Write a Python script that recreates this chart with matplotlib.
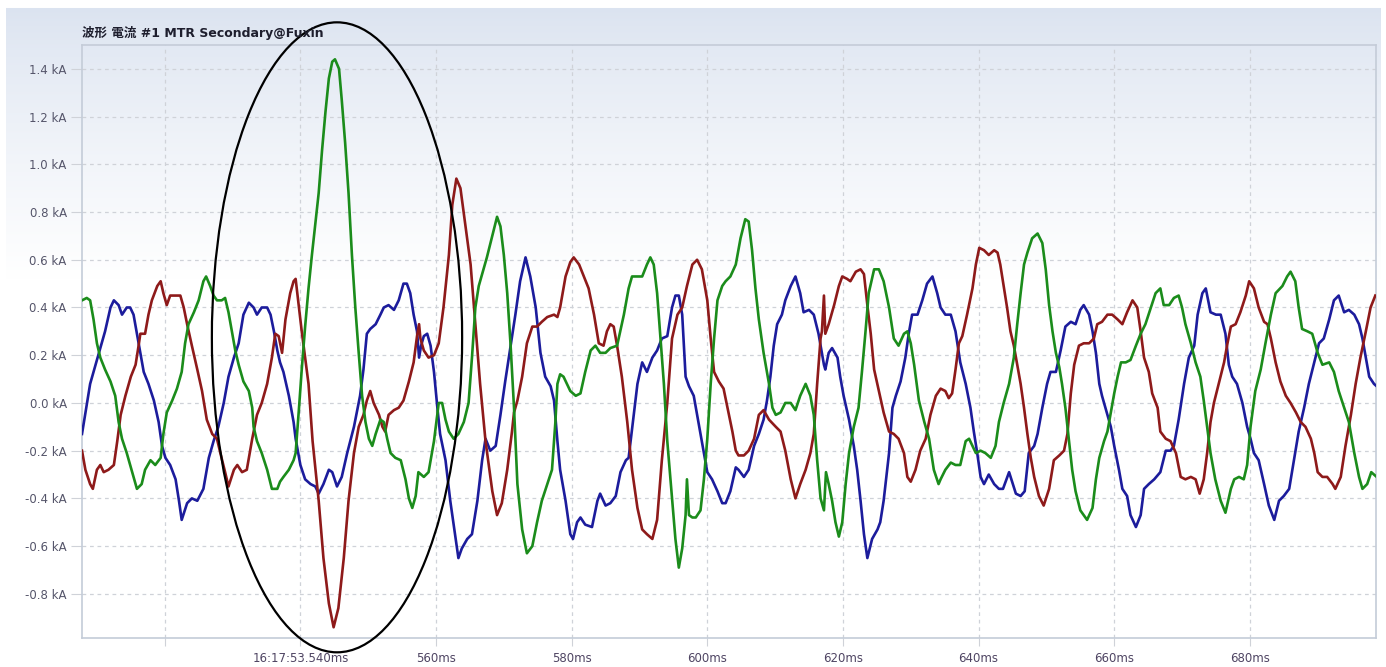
import numpy as np
import matplotlib
matplotlib.use("Agg")
import matplotlib.pyplot as plt
from matplotlib.patches import Ellipse
from matplotlib.colors import LinearSegmentedColormap

# ---- waveform samples: time in ms, current in kA ----
t_blue = [507.8, 509.0, 510.3, 511.2, 512.0, 512.5, 513.2, 513.7, 514.4, 514.9, 515.4, 515.9, 516.4, 516.9,
          517.6, 518.4, 519.1, 519.6, 520.1, 520.8, 521.6, 522.1, 522.5, 523.3, 524.0, 524.8, 525.7, 526.5,
          527.2, 527.9, 528.7, 529.4, 530.2, 530.9, 531.6, 532.4, 533.1, 533.6, 534.3, 535.1, 535.6, 536.1,
          536.6, 537.0, 537.5, 538.3, 539.0, 539.3, 540.0, 540.7, 541.5, 542.2, 542.7, 543.4, 544.2, 544.7,
          545.4, 546.1, 546.9, 547.9, 548.8, 549.3, 549.8, 550.3, 551.1, 551.8, 552.3, 553.0, 553.8, 554.5,
          555.2, 555.7, 556.2, 556.7, 557.2, 557.5, 557.8, 558.2, 558.7, 559.2, 559.7, 560.2, 560.6, 561.4,
          562.1, 562.9, 563.3, 563.8, 564.6, 565.3, 566.1, 566.8, 567.3, 568.0, 568.8, 569.5, 570.2, 571.0,
          571.7, 572.4, 573.2, 573.9, 574.7, 575.4, 576.1, 576.9, 577.4, 577.9, 578.3, 579.1, 579.8, 580.2,
          580.8, 581.3, 582.0, 583.0, 583.8, 584.2, 585.0, 585.7, 586.5, 587.2, 588.0, 588.4, 589.2, 589.7,
          590.4, 591.1, 591.9, 592.6, 593.3, 594.1, 594.8, 595.3, 595.8, 596.3, 596.8, 597.3, 598.0, 598.5,
          599.2, 600.0, 600.7, 601.5, 602.2, 602.7, 603.4, 604.2, 604.6, 605.4, 606.1, 606.9, 607.6, 608.3,
          608.8, 609.3, 609.8, 610.3, 611.0, 611.5, 612.3, 613.0, 613.7, 614.2, 615.0, 615.7, 616.4, 617.2,
          617.4, 617.9, 618.4, 619.2, 619.6, 620.1, 620.9, 621.6, 622.1, 622.6, 623.1, 623.6, 624.3, 625.1,
          625.5, 626.0, 626.8, 627.3, 627.8, 628.5, 629.2, 629.7, 630.2, 631.0, 631.7, 632.4, 633.2, 633.9,
          634.4, 635.1, 635.9, 636.6, 637.3, 638.1, 638.8, 639.3, 639.8, 640.3, 640.8, 641.5, 642.3, 643.0,
          643.6, 644.5, 645.5, 646.2, 646.8, 647.4, 648.2, 648.7, 649.4, 650.1, 650.6, 651.4, 652.1, 652.8,
          653.6, 654.3, 655.0, 655.5, 656.3, 656.8, 657.3, 657.8, 658.2, 658.7, 659.5, 660.0, 660.7, 661.2,
          661.9, 662.4, 663.2, 663.9, 664.4, 665.1, 665.9, 666.8, 667.6, 668.3, 668.8, 669.5, 670.3, 671.0,
          671.8, 672.3, 673.0, 673.5, 674.2, 675.0, 675.7, 676.4, 676.9, 677.4, 678.1, 678.9, 679.6, 680.1,
          680.6, 681.3, 682.1, 682.8, 683.6, 684.3, 685.0, 685.8, 686.5, 687.2, 688.0, 688.7, 689.5, 690.2,
          690.9, 691.7, 692.4, 693.1, 693.9, 694.6, 695.4, 696.1, 696.6, 697.1, 697.6, 698.3, 698.7]
i_blue = [-0.13, 0.08, 0.21, 0.30, 0.40, 0.43, 0.41, 0.37, 0.40, 0.40, 0.37, 0.29, 0.21, 0.13,
          0.08, 0.01, -0.08, -0.18, -0.23, -0.26, -0.32, -0.41, -0.49, -0.42, -0.40, -0.41, -0.36, -0.23,
          -0.16, -0.10, 0.00, 0.11, 0.19, 0.25, 0.37, 0.42, 0.40, 0.37, 0.40, 0.40, 0.37, 0.30,
          0.22, 0.17, 0.13, 0.03, -0.08, -0.15, -0.26, -0.32, -0.34, -0.35, -0.38, -0.34, -0.28, -0.29,
          -0.35, -0.31, -0.21, -0.10, 0.03, 0.14, 0.29, 0.31, 0.33, 0.37, 0.40, 0.41, 0.39, 0.43,
          0.50, 0.50, 0.46, 0.37, 0.30, 0.19, 0.24, 0.28, 0.29, 0.24, 0.13, -0.02, -0.13, -0.24,
          -0.41, -0.57, -0.65, -0.61, -0.57, -0.55, -0.41, -0.24, -0.15, -0.20, -0.18, -0.05, 0.09, 0.24,
          0.37, 0.51, 0.61, 0.53, 0.40, 0.21, 0.11, 0.07, 0.01, -0.16, -0.28, -0.41, -0.55, -0.57,
          -0.50, -0.48, -0.51, -0.52, -0.41, -0.38, -0.43, -0.42, -0.39, -0.29, -0.24, -0.23, -0.04, 0.08,
          0.17, 0.13, 0.19, 0.22, 0.27, 0.28, 0.40, 0.45, 0.45, 0.37, 0.11, 0.07, 0.03, -0.05,
          -0.16, -0.29, -0.32, -0.37, -0.42, -0.42, -0.37, -0.27, -0.28, -0.31, -0.28, -0.18, -0.13, -0.07,
          0.01, 0.11, 0.24, 0.33, 0.37, 0.43, 0.49, 0.53, 0.46, 0.38, 0.39, 0.37, 0.29, 0.16,
          0.14, 0.21, 0.23, 0.19, 0.11, 0.03, -0.07, -0.18, -0.28, -0.41, -0.55, -0.65, -0.57, -0.53,
          -0.50, -0.41, -0.21, -0.02, 0.03, 0.09, 0.19, 0.29, 0.37, 0.37, 0.43, 0.50, 0.53, 0.46,
          0.40, 0.37, 0.37, 0.30, 0.17, 0.08, -0.02, -0.12, -0.21, -0.31, -0.34, -0.30, -0.34, -0.36,
          -0.36, -0.29, -0.38, -0.39, -0.37, -0.21, -0.18, -0.13, -0.02, 0.08, 0.13, 0.13, 0.22, 0.32,
          0.34, 0.33, 0.39, 0.41, 0.37, 0.30, 0.21, 0.08, 0.03, -0.02, -0.10, -0.18, -0.28, -0.36,
          -0.39, -0.47, -0.52, -0.47, -0.36, -0.34, -0.32, -0.29, -0.20, -0.20, -0.18, -0.07, 0.08, 0.19,
          0.24, 0.37, 0.46, 0.48, 0.38, 0.37, 0.37, 0.29, 0.16, 0.11, 0.08, 0.00, -0.10, -0.15,
          -0.21, -0.24, -0.34, -0.43, -0.49, -0.41, -0.39, -0.36, -0.24, -0.12, -0.02, 0.08, 0.17, 0.25,
          0.27, 0.35, 0.43, 0.45, 0.38, 0.39, 0.37, 0.33, 0.27, 0.19, 0.11, 0.08, 0.07]

t_red = [507.8, 508.3, 509.0, 509.4, 510.0, 510.5, 511.0, 511.7, 512.5, 513.0, 513.5, 514.2, 515.0, 515.7,
         516.2, 516.4, 517.1, 517.6, 518.1, 518.9, 519.4, 519.8, 520.3, 520.8, 521.6, 522.3, 522.8, 523.3,
         524.0, 524.8, 525.5, 526.2, 527.0, 527.7, 528.2, 528.9, 529.4, 530.2, 530.7, 531.4, 532.1, 532.9,
         533.6, 534.3, 535.1, 535.8, 536.3, 536.8, 537.3, 537.8, 538.5, 539.0, 539.3, 540.2, 541.2, 541.8,
         542.7, 543.4, 544.2, 544.9, 545.6, 546.4, 547.1, 547.9, 548.6, 549.3, 549.8, 550.3, 550.8, 551.6,
         552.1, 552.5, 553.0, 553.8, 554.5, 555.2, 556.0, 556.7, 557.2, 557.5, 557.7, 558.2, 558.9, 559.7,
         560.4, 561.1, 561.9, 562.4, 563.0, 563.6, 564.3, 565.1, 565.8, 566.5, 567.3, 568.3, 569.0, 569.7,
         570.5, 571.2, 571.5, 572.0, 572.7, 573.4, 574.2, 574.9, 575.6, 576.4, 577.4, 577.9, 578.3, 579.1,
         579.8, 580.3, 581.1, 581.8, 582.5, 583.3, 584.0, 584.7, 585.2, 585.7, 586.2, 586.7, 587.4, 588.2,
         588.9, 589.7, 590.4, 591.1, 591.9, 592.6, 593.3, 594.1, 594.8, 595.6, 596.3, 597.0, 597.8, 598.5,
         599.2, 600.0, 600.5, 601.0, 601.7, 602.4, 603.2, 603.7, 604.2, 604.6, 605.4, 606.1, 606.9, 607.6,
         608.3, 609.1, 610.1, 610.8, 611.5, 612.3, 613.0, 613.7, 614.5, 615.2, 615.7, 616.2, 616.7, 616.9,
         617.2, 617.4, 617.9, 618.7, 619.4, 619.9, 620.6, 621.1, 621.9, 622.6, 623.1, 623.6, 624.1, 624.6,
         625.3, 626.0, 626.8, 627.5, 628.2, 629.0, 629.5, 630.0, 630.7, 631.4, 632.2, 632.9, 633.7, 634.4,
         635.1, 635.6, 636.1, 636.6, 637.1, 637.6, 638.3, 639.1, 639.6, 640.1, 640.8, 641.5, 642.3, 642.8,
         643.2, 643.7, 644.2, 644.7, 645.2, 645.7, 646.2, 646.7, 647.2, 647.7, 648.2, 648.9, 649.6, 650.4,
         651.1, 651.9, 652.6, 653.1, 653.6, 654.1, 654.8, 655.5, 656.3, 657.0, 657.5, 658.2, 659.0, 659.7,
         660.5, 661.2, 661.9, 662.7, 663.4, 663.9, 664.4, 665.1, 665.6, 666.4, 666.8, 667.6, 668.3, 669.1,
         669.8, 670.5, 671.3, 672.0, 672.6, 673.2, 673.7, 674.2, 674.7, 675.4, 676.2, 676.7, 677.2, 677.9,
         678.6, 679.4, 679.9, 680.6, 681.3, 682.1, 682.6, 683.1, 683.8, 684.5, 685.3, 686.0, 686.8, 687.5,
         688.2, 689.0, 689.5, 690.0, 690.7, 691.4, 692.2, 692.6, 693.4, 694.1, 694.9, 695.6, 696.3, 697.1,
         697.8, 698.5]
i_red = [-0.20, -0.28, -0.34, -0.36, -0.28, -0.26, -0.29, -0.28, -0.26, -0.16, -0.05, 0.03, 0.11, 0.16,
         0.25, 0.29, 0.29, 0.37, 0.43, 0.49, 0.51, 0.46, 0.41, 0.45, 0.45, 0.45, 0.40, 0.33,
         0.24, 0.14, 0.05, -0.07, -0.13, -0.15, -0.21, -0.29, -0.35, -0.28, -0.26, -0.29, -0.28, -0.15,
         -0.05, 0.00, 0.08, 0.19, 0.29, 0.28, 0.21, 0.35, 0.46, 0.51, 0.52, 0.30, 0.08, -0.16,
         -0.41, -0.65, -0.84, -0.94, -0.86, -0.65, -0.41, -0.21, -0.10, -0.05, 0.01, 0.05, 0.00, -0.05,
         -0.10, -0.12, -0.05, -0.03, -0.02, 0.01, 0.09, 0.17, 0.28, 0.33, 0.27, 0.22, 0.19, 0.20,
         0.25, 0.40, 0.62, 0.83, 0.94, 0.90, 0.75, 0.58, 0.33, 0.08, -0.16, -0.37, -0.47, -0.42,
         -0.28, -0.12, -0.04, 0.01, 0.11, 0.25, 0.32, 0.32, 0.34, 0.36, 0.37, 0.36, 0.40, 0.53,
         0.59, 0.61, 0.58, 0.53, 0.48, 0.37, 0.25, 0.24, 0.30, 0.33, 0.32, 0.24, 0.11, -0.08,
         -0.28, -0.44, -0.53, -0.55, -0.57, -0.49, -0.24, 0.00, 0.27, 0.37, 0.40, 0.49, 0.58, 0.60,
         0.56, 0.43, 0.27, 0.13, 0.09, 0.06, -0.05, -0.12, -0.20, -0.22, -0.22, -0.20, -0.15, -0.05,
         -0.03, -0.07, -0.10, -0.12, -0.20, -0.32, -0.40, -0.34, -0.28, -0.21, -0.13, 0.08, 0.27, 0.30,
         0.45, 0.29, 0.33, 0.41, 0.49, 0.53, 0.52, 0.51, 0.55, 0.56, 0.54, 0.41, 0.29, 0.14,
         0.05, -0.04, -0.12, -0.13, -0.15, -0.21, -0.31, -0.33, -0.28, -0.20, -0.15, -0.05, 0.03, 0.06,
         0.05, 0.02, 0.04, 0.14, 0.25, 0.28, 0.37, 0.48, 0.58, 0.65, 0.64, 0.62, 0.64, 0.63,
         0.58, 0.49, 0.40, 0.30, 0.24, 0.16, 0.08, -0.02, -0.13, -0.23, -0.31, -0.39, -0.43, -0.36,
         -0.24, -0.22, -0.20, -0.13, 0.04, 0.16, 0.24, 0.25, 0.25, 0.27, 0.33, 0.34, 0.37, 0.37,
         0.35, 0.33, 0.38, 0.43, 0.40, 0.30, 0.19, 0.13, 0.04, -0.02, -0.12, -0.15, -0.16, -0.21,
         -0.31, -0.32, -0.31, -0.32, -0.38, -0.32, -0.21, -0.08, 0.00, 0.08, 0.17, 0.25, 0.32, 0.33,
         0.38, 0.45, 0.51, 0.48, 0.40, 0.34, 0.33, 0.27, 0.17, 0.09, 0.03, 0.00, -0.04, -0.08,
         -0.10, -0.15, -0.21, -0.29, -0.31, -0.31, -0.34, -0.36, -0.31, -0.18, -0.05, 0.08, 0.19, 0.30,
         0.40, 0.45]

t_green = [507.8, 508.5, 509.0, 509.5, 510.0, 510.5, 511.2, 512.0, 512.7, 513.2, 513.7, 514.4, 515.2, 515.9,
           516.6, 517.1, 517.9, 518.6, 519.4, 519.8, 520.3, 521.1, 521.8, 522.5, 523.0, 523.5, 524.3, 525.0,
           525.7, 526.1, 526.7, 527.2, 527.7, 528.4, 528.9, 529.4, 529.9, 530.4, 530.9, 531.6, 532.4, 532.9,
           533.1, 533.6, 534.3, 535.1, 535.8, 536.6, 537.0, 537.5, 538.3, 539.0, 539.3, 539.8, 540.2, 540.7,
           541.2, 541.7, 542.2, 542.7, 543.2, 543.7, 544.2, 544.7, 545.1, 545.7, 546.1, 546.6, 547.1, 547.6,
           548.1, 548.6, 549.1, 549.6, 550.1, 550.6, 551.1, 551.8, 552.3, 552.8, 553.3, 554.0, 554.8, 555.5,
           556.0, 556.5, 557.0, 557.4, 558.2, 558.9, 559.7, 560.4, 560.9, 561.4, 561.9, 562.6, 563.3, 564.1,
           564.8, 565.3, 565.8, 566.3, 567.0, 567.5, 568.3, 569.0, 569.5, 570.0, 570.5, 571.0, 571.5, 572.0,
           572.7, 573.4, 574.2, 574.9, 575.6, 576.4, 577.1, 577.6, 577.9, 578.3, 578.8, 579.3, 579.8, 580.6,
           581.3, 582.0, 582.8, 583.5, 584.2, 585.0, 585.7, 586.7, 587.7, 588.4, 588.9, 589.7, 590.4, 591.1,
           591.6, 592.1, 592.6, 593.1, 593.6, 594.1, 594.8, 595.3, 595.8, 596.3, 596.8, 597.0, 597.3, 597.8,
           598.3, 599.0, 599.5, 600.0, 600.5, 601.0, 601.5, 602.2, 602.7, 603.4, 604.2, 604.9, 605.6, 606.1,
           606.6, 607.1, 607.6, 608.3, 609.1, 609.6, 610.1, 610.8, 611.5, 612.3, 613.0, 613.7, 614.5, 615.2,
           615.7, 616.2, 616.7, 617.2, 617.5, 617.9, 618.4, 618.9, 619.4, 619.9, 620.4, 620.9, 621.6, 622.3,
           622.8, 623.3, 623.8, 624.6, 625.3, 626.0, 626.8, 627.5, 628.2, 629.0, 629.5, 630.0, 630.5, 631.2,
           632.0, 632.7, 633.4, 634.1, 634.4, 635.1, 635.9, 636.6, 637.3, 638.1, 638.6, 639.1, 639.6, 640.3,
           641.0, 641.8, 642.5, 643.0, 643.7, 644.5, 645.2, 645.7, 646.2, 646.7, 647.2, 647.9, 648.7, 649.4,
           649.9, 650.4, 650.9, 651.4, 651.9, 652.3, 652.8, 653.3, 653.8, 654.3, 655.0, 656.0, 656.8, 657.3,
           657.8, 658.5, 659.0, 659.5, 660.0, 660.5, 661.0, 661.7, 662.4, 663.2, 663.9, 664.6, 665.4, 666.1,
           666.8, 667.3, 668.1, 668.8, 669.5, 670.0, 670.5, 671.3, 672.0, 672.7, 673.2, 673.7, 674.2, 674.9,
           675.7, 676.4, 677.2, 677.7, 678.4, 679.1, 679.6, 680.1, 680.8, 681.6, 682.3, 683.1, 683.8, 684.8,
           685.5, 686.0, 686.7, 687.2, 687.7, 688.5, 689.2, 690.0, 690.7, 691.7, 692.4, 693.1, 693.9, 694.6,
           695.4, 696.1, 696.6, 697.3, 697.9, 698.7]
i_green = [0.43, 0.44, 0.43, 0.35, 0.25, 0.19, 0.14, 0.09, 0.03, -0.08, -0.15, -0.21, -0.29, -0.36,
           -0.34, -0.28, -0.24, -0.26, -0.23, -0.13, -0.04, 0.01, 0.06, 0.13, 0.25, 0.33, 0.38, 0.43,
           0.51, 0.53, 0.49, 0.45, 0.43, 0.43, 0.44, 0.38, 0.30, 0.22, 0.16, 0.09, 0.05, -0.02,
           -0.10, -0.16, -0.21, -0.28, -0.36, -0.36, -0.33, -0.31, -0.28, -0.24, -0.21, -0.02, 0.14, 0.32,
           0.48, 0.62, 0.75, 0.88, 1.06, 1.22, 1.36, 1.43, 1.44, 1.40, 1.27, 1.09, 0.88, 0.62,
           0.40, 0.21, 0.03, -0.08, -0.15, -0.18, -0.13, -0.07, -0.08, -0.15, -0.21, -0.23, -0.24, -0.32,
           -0.40, -0.44, -0.39, -0.29, -0.31, -0.29, -0.16, 0.00, 0.00, -0.07, -0.12, -0.15, -0.13, -0.08,
           0.00, 0.19, 0.40, 0.49, 0.56, 0.61, 0.70, 0.78, 0.74, 0.62, 0.46, 0.24, -0.02, -0.34,
           -0.53, -0.63, -0.60, -0.50, -0.41, -0.34, -0.28, -0.08, 0.08, 0.12, 0.11, 0.08, 0.05, 0.03,
           0.04, 0.13, 0.22, 0.24, 0.21, 0.21, 0.23, 0.24, 0.37, 0.48, 0.53, 0.53, 0.53, 0.58,
           0.61, 0.58, 0.46, 0.27, 0.08, -0.16, -0.40, -0.57, -0.69, -0.61, -0.47, -0.32, -0.47, -0.48,
           -0.48, -0.45, -0.32, -0.15, 0.08, 0.27, 0.43, 0.49, 0.51, 0.53, 0.58, 0.69, 0.77, 0.76,
           0.64, 0.48, 0.35, 0.21, 0.08, -0.02, -0.05, -0.04, 0.00, 0.00, -0.03, 0.03, 0.08, 0.03,
           -0.05, -0.24, -0.40, -0.45, -0.29, -0.34, -0.41, -0.50, -0.56, -0.50, -0.34, -0.21, -0.10, -0.02,
           0.13, 0.29, 0.46, 0.56, 0.56, 0.51, 0.40, 0.27, 0.24, 0.29, 0.30, 0.25, 0.16, 0.01,
           -0.08, -0.15, -0.28, -0.34, -0.32, -0.28, -0.25, -0.26, -0.26, -0.16, -0.15, -0.18, -0.21, -0.20,
           -0.21, -0.23, -0.18, -0.08, 0.00, 0.08, 0.19, 0.33, 0.46, 0.58, 0.63, 0.69, 0.71, 0.67,
           0.56, 0.41, 0.30, 0.21, 0.15, 0.08, -0.02, -0.15, -0.28, -0.37, -0.45, -0.49, -0.44, -0.32,
           -0.23, -0.16, -0.12, -0.04, 0.04, 0.11, 0.17, 0.17, 0.18, 0.24, 0.29, 0.33, 0.40, 0.46,
           0.48, 0.41, 0.41, 0.44, 0.45, 0.40, 0.33, 0.25, 0.17, 0.11, 0.01, -0.10, -0.21, -0.32,
           -0.41, -0.46, -0.36, -0.32, -0.31, -0.32, -0.26, -0.10, 0.05, 0.14, 0.25, 0.37, 0.46, 0.49,
           0.53, 0.55, 0.51, 0.40, 0.31, 0.30, 0.29, 0.21, 0.16, 0.17, 0.13, 0.05, -0.02, -0.08,
           -0.21, -0.31, -0.36, -0.34, -0.29, -0.31]

y_ticks = [-0.8, -0.6, -0.4, -0.2, 0.0, 0.2, 0.4, 0.6, 0.8, 1.0, 1.2, 1.4]
x_ticks = [520, 540, 560, 580, 600, 620, 640, 660, 680]
x_labels = ["", "16:17:53.540ms", "560ms", "580ms", "600ms", "620ms", "640ms", "660ms", "680ms"]
title = "波形 電流 #1 MTR Secondary@Fuxin"

W, H = 1386, 667
fig = plt.figure(figsize=(W / 100, H / 100), dpi=100, facecolor="white")

# soft blue-to-white backdrop behind the chart
bg = fig.add_axes([0, 0, 1, 1], zorder=-5)
bg.set_xlim(0, 1)
bg.set_ylim(0, 1)
bg.axis("off")
grad = np.ones((H, 1))
rows = np.arange(H)
top, fade_end = 8, 280
frac = np.clip((rows - top) / (fade_end - top), 0, 1) ** 0.8
grad[:, 0] = frac
grad[:top, 0] = 1.0
cmap = LinearSegmentedColormap.from_list("bg", ["#dbe3f0", "#ffffff"])
bg.imshow(grad, cmap=cmap, vmin=0, vmax=1, aspect="auto", extent=[0.004, 0.996, 0, 1],
          origin="upper", interpolation="bilinear")

left, right = 82 / W, 1376 / W
bottom, topy = 1 - 638 / H, 1 - 45 / H
ax = fig.add_axes([left, bottom, right - left, topy - bottom])
ax.set_facecolor("none")

ax.plot(t_blue, i_blue, color="#1c1c9c", lw=1.9, solid_joinstyle="round", zorder=3)
ax.plot(t_red, i_red, color="#8e1a1a", lw=1.9, solid_joinstyle="round", zorder=3)
ax.plot(t_green, i_green, color="#1b8c1b", lw=1.9, solid_joinstyle="round", zorder=3)

ax.set_xlim(507.8, 698.6)
ax.set_ylim(-0.985, 1.50)

ax.set_yticks(y_ticks)
ax.set_yticklabels([f"{v:.1f} kA" for v in y_ticks])
ax.set_xticks(x_ticks)
ax.set_xticklabels(x_labels)

ax.grid(True, color="#cfd2d8", lw=0.9, ls=(0, (3, 3)))
ax.set_axisbelow(True)
ax.tick_params(axis="y", length=8, width=0.8, color="#cfd2d8", pad=3,
               labelsize=8.5, labelcolor="#55556a")
ax.tick_params(axis="x", length=6, width=0.8, color="#cfd2d8", pad=4,
               labelsize=8.5, labelcolor="#4f4563")
for s in ["left", "bottom", "right", "top"]:
    ax.spines[s].set_color("#c4ccd8")
    ax.spines[s].set_linewidth(1.2)

# highlight around the inrush transient
ell = Ellipse((545.4, 0.275), width=36.9, height=2.64, fill=False, ec="black",
              lw=1.6, clip_on=False, zorder=5)
ax.add_patch(ell)

fig.text(82 / W, 1 - 33 / H, title, ha="left", va="center", fontsize=9, fontweight="bold",
         color="#1e1e2e", family=["DejaVu Sans", "Noto Sans CJK JP"])

fig.savefig("out.png", dpi=100, facecolor="white")
